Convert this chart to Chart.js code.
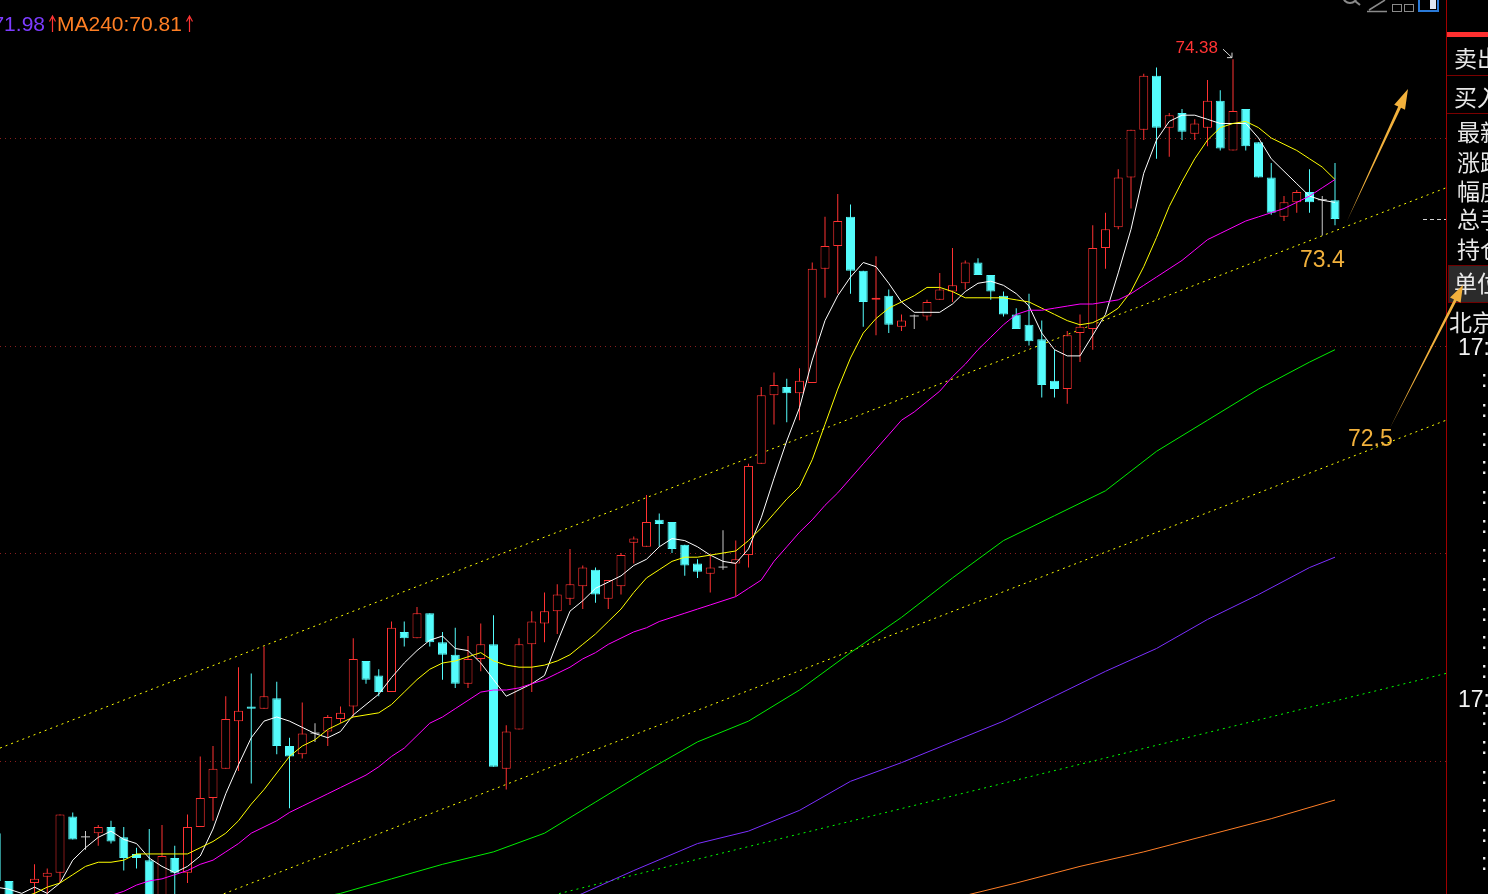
<!DOCTYPE html>
<html>
<head>
<meta charset="utf-8">
<title>K线</title>
<script src="https://cdn.jsdelivr.net/npm/chart.js@4.4.1/dist/chart.umd.min.js"></script>
<style>
  html, body { margin: 0; padding: 0; background: #000; overflow: hidden; }
  #wrap { position: relative; width: 1488px; height: 894px; background: #000; overflow: hidden; }
  #chartBox { position: absolute; left: 0; top: 0; width: 1446px; height: 894px; }
  #overlay { position: absolute; left: 0; top: 0; pointer-events: none; }
  #overlay text { font-family: "Liberation Sans", Arial, sans-serif; }
  #overlay .cjk { font-family: "Noto Sans CJK SC", sans-serif; }
</style>
</head>
<body>
<div id="wrap">
  <div id="chartBox"><canvas id="kChart"></canvas></div>
  <svg id="overlay" width="1488" height="894">
    <!-- MA legend (left part is cut by the window) -->
    <text id="lg120" x="45" y="31" font-size="21" fill="#7d3cff" text-anchor="end">71.98</text>
    <path d="M52.5 32V16M49.5 21.5L52.5 16L55.5 21.5" stroke="#ff3434" stroke-width="1.2" fill="none"/>
    <text id="lg240" x="57" y="31" font-size="21" fill="#ff7f24">MA240:70.81</text>
    <path d="M189.5 32V16M186.5 21.5L189.5 16L192.5 21.5" stroke="#ff3434" stroke-width="1.2" fill="none"/>

    <!-- toolbar icons, top right -->
    <circle cx="1350" cy="-4" r="7" stroke="#8a8a8a" stroke-width="2" fill="none"/>
    <path d="M1355 1L1360 5" stroke="#8a8a8a" stroke-width="2"/>
    <path d="M1385 0L1369 10M1367 11.5H1387" stroke="#8a8a8a" stroke-width="1.5" fill="none"/>
    <rect x="1392.5" y="4.5" width="9" height="7" stroke="#8a8a8a" fill="none"/>
    <rect x="1404.5" y="4.5" width="9" height="7" stroke="#8a8a8a" fill="none"/>
    <rect x="1419" y="-2" width="19" height="13" stroke="#2a7ad8" stroke-width="2" fill="none"/>
    <rect x="1430" y="0" width="6" height="9" fill="#dfe8f5"/>

    <!-- right info panel -->
    <line x1="1446.5" y1="0" x2="1446.5" y2="894" stroke="#a00000"/>
    <rect x="1447" y="32" width="41" height="5" fill="#ff3030"/>
    <line x1="1447" y1="75.5" x2="1488" y2="75.5" stroke="#7a0000"/>
    <line x1="1447" y1="113.5" x2="1488" y2="113.5" stroke="#7a0000"/>
    <text class="cjk" x="1454" y="67" font-size="23" fill="#e8e8e8">卖出</text>
    <text class="cjk" x="1454" y="106" font-size="23" fill="#e8e8e8">买入</text>
    <text class="cjk" x="1457" y="141" font-size="23" fill="#e8e8e8">最新</text>
    <text class="cjk" x="1457" y="171" font-size="23" fill="#e8e8e8">涨跌</text>
    <text class="cjk" x="1457" y="200" font-size="23" fill="#e8e8e8">幅度</text>
    <text class="cjk" x="1457" y="228" font-size="23" fill="#e8e8e8">总手</text>
    <text class="cjk" x="1457" y="258" font-size="23" fill="#e8e8e8">持仓</text>
    <rect x="1448.5" y="265.5" width="41" height="37" fill="#2b2b2b" stroke="#700000"/>
    <text class="cjk" x="1454" y="292" font-size="23" fill="#e8e8e8">单位</text>
    <text class="cjk" x="1449" y="331" font-size="23" fill="#e8e8e8">北京</text>
    <text x="1458" y="355" font-size="23" fill="#f2f2f2">17:</text>
    <text x="1458" y="707" font-size="23" fill="#f2f2f2">17:</text>
    <g id="timeRows"></g>

    <!-- hand drawn notes -->
    <text x="1300" y="267" font-size="23" fill="#f2b13c">73.4</text>
    <text x="1348" y="446" font-size="23" fill="#f2b13c">72.5</text>
    <polygon points="1347,221 1398.2,106.6 1394.2,104.7 1408,89 1405,109.7 1401,107.8" fill="#f2b13c"/>
    <polygon points="1390,428 1454,299.4 1450,297.4 1463,285 1460.6,302.8 1456.6,300.8" fill="#f2b13c"/>
  </svg>
</div>

<script>
// candle index (one per trading bar)
const idx = Array.from({ length: 106 }, (_, i) => i);

const opens = [
  70.65, 70.42, 70.30, 70.41, 70.44, 70.46, 70.73, 70.63, 70.65, 70.68,
  70.63, 70.55, 70.52, 70.33, 70.53, 70.46, 70.68, 70.82, 70.96, 71.19,
  71.26, 71.25, 71.30, 71.07, 71.03, 71.13, 71.14, 71.20, 71.26, 71.48,
  71.41, 71.33, 71.62, 71.59, 71.71, 71.57, 71.51, 71.37, 71.49, 71.56,
  70.96, 71.15, 71.56, 71.66, 71.72, 71.78, 71.84, 71.92, 71.78, 71.84,
  72.05, 72.03, 72.16, 72.15, 72.04, 71.95, 71.90, 71.93, 71.95, 71.99,
  72.43, 72.76, 72.80, 72.77, 72.82, 73.37, 73.48, 73.62, 73.36, 73.22,
  73.24, 73.09, 73.14, 73.14, 73.22, 73.26, 73.30, 73.40, 73.34, 73.24,
  73.15, 73.10, 73.03, 72.83, 72.79, 73.06, 73.08, 73.47, 73.57, 73.81,
  74.04, 74.30, 74.05, 74.12, 74.02, 74.05, 74.18, 73.94, 74.14, 73.98,
  73.81, 73.62, 73.69, 73.74, 73.70, 73.70
];
const highs = [
  70.66, 70.42, 70.33, 70.50, 70.48, 70.74, 70.75, 70.66, 70.69, 70.71,
  70.68, 70.58, 70.67, 70.69, 70.59, 70.74, 71.02, 71.07, 71.31, 71.45,
  71.42, 71.55, 71.38, 71.11, 71.28, 71.18, 71.22, 71.26, 71.59, 71.48,
  71.44, 71.67, 71.67, 71.74, 71.71, 71.62, 71.64, 71.60, 71.66, 71.70,
  71.17, 71.59, 71.72, 71.81, 71.85, 72.02, 71.94, 71.93, 71.87, 72.00,
  72.08, 72.28, 72.19, 72.15, 72.04, 71.97, 71.99, 72.11, 72.06, 72.43,
  72.80, 72.87, 72.84, 72.89, 73.40, 73.62, 73.73, 73.68, 73.36, 73.43,
  73.27, 73.15, 73.15, 73.22, 73.35, 73.47, 73.41, 73.42, 73.34, 73.26,
  73.18, 73.25, 73.12, 72.98, 73.07, 73.15, 73.58, 73.64, 73.85, 74.04,
  74.31, 74.34, 74.12, 74.14, 74.09, 74.28, 74.23, 74.38, 74.14, 73.98,
  73.88, 73.72, 73.75, 73.85, 73.72, 73.88
];
const lows = [
  70.40, 70.30, 70.28, 70.34, 70.34, 70.41, 70.62, 70.57, 70.59, 70.60,
  70.47, 70.48, 70.30, 70.30, 70.33, 70.41, 70.68, 70.71, 70.96, 70.95,
  70.89, 71.25, 71.03, 70.77, 71.01, 71.09, 71.07, 71.18, 71.21, 71.37,
  71.31, 71.33, 71.55, 71.59, 71.55, 71.39, 71.35, 71.35, 71.43, 70.97,
  70.86, 71.15, 71.33, 71.57, 71.61, 71.75, 71.73, 71.76, 71.73, 71.80,
  71.95, 72.03, 72.03, 72.00, 71.89, 71.88, 71.81, 71.92, 71.79, 71.93,
  72.43, 72.62, 72.63, 72.64, 72.82, 73.23, 73.25, 73.25, 73.09, 73.05,
  73.06, 73.07, 73.08, 73.12, 73.22, 73.21, 73.27, 73.34, 73.22, 73.14,
  73.08, 73.00, 72.75, 72.75, 72.72, 72.92, 72.98, 73.37, 73.56, 73.66,
  73.99, 73.90, 73.91, 73.99, 73.99, 73.96, 73.94, 73.94, 73.94, 73.81,
  73.63, 73.60, 73.64, 73.64, 73.53, 73.58
];
const closes = [
  70.42, 70.33, 70.32, 70.43, 70.46, 70.74, 70.62, 70.63, 70.68, 70.61,
  70.53, 70.53, 70.33, 70.54, 70.46, 70.68, 70.82, 70.96, 71.20, 71.24,
  71.25, 71.31, 71.07, 71.02, 71.13, 71.13, 71.21, 71.23, 71.49, 71.39,
  71.33, 71.64, 71.59, 71.71, 71.57, 71.51, 71.37, 71.49, 71.56, 70.97,
  71.14, 71.56, 71.67, 71.72, 71.80, 71.85, 71.93, 71.80, 71.87, 71.99,
  72.07, 72.15, 72.14, 72.02, 71.94, 71.91, 71.93, 71.93, 71.97, 72.42,
  72.76, 72.81, 72.77, 72.83, 73.37, 73.48, 73.60, 73.36, 73.21, 73.23,
  73.10, 73.12, 73.14, 73.21, 73.27, 73.29, 73.40, 73.34, 73.26, 73.15,
  73.08, 73.02, 72.81, 72.79, 73.05, 73.09, 73.47, 73.56, 73.81, 74.04,
  74.30, 74.05, 74.11, 74.03, 74.07, 74.18, 73.95, 74.13, 73.96, 73.81,
  73.64, 73.69, 73.74, 73.69, 73.70, 73.61
];

const ma5 = [
  70.39, 70.38, 70.36, 70.39, 70.36, 70.41, 70.52, 70.58, 70.63, 70.66,
  70.62, 70.60, 70.53, 70.49, 70.46, 70.49, 70.54, 70.67, 70.84, 70.98,
  71.11, 71.19, 71.21, 71.19, 71.16, 71.13, 71.11, 71.14, 71.22, 71.27,
  71.32, 71.40, 71.47, 71.53, 71.58, 71.60, 71.54, 71.53, 71.47, 71.39,
  71.31, 71.34, 71.37, 71.41, 71.57, 71.72, 71.77, 71.83, 71.86, 71.89,
  71.94, 71.97, 72.03, 72.07, 72.06, 72.03, 71.99, 71.96, 71.95, 72.02,
  72.17, 72.36, 72.54, 72.70, 72.93, 73.12, 73.24, 73.33, 73.40, 73.38,
  73.30, 73.21, 73.16, 73.16, 73.16, 73.20, 73.26, 73.30, 73.31, 73.29,
  73.25, 73.19, 73.06, 72.98, 72.95, 72.95, 73.05, 73.15, 73.35, 73.56,
  73.83, 73.99, 74.08, 74.11, 74.11, 74.09, 74.07, 74.07, 74.07, 74.00,
  73.90, 73.84, 73.78, 73.72, 73.70, 73.69
];
const ma10 = [
  70.30, 70.33, 70.34, 70.36, 70.39, 70.41, 70.45, 70.49, 70.51, 70.51,
  70.52, 70.55, 70.55, 70.55, 70.55, 70.55, 70.58, 70.61, 70.65, 70.71,
  70.79, 70.86, 70.94, 71.02, 71.07, 71.10, 71.15, 71.18, 71.21, 71.22,
  71.23, 71.27, 71.33, 71.39, 71.44, 71.47, 71.48, 71.50, 71.52, 71.48,
  71.46, 71.45, 71.45, 71.46, 71.48, 71.51, 71.56, 71.61, 71.67, 71.73,
  71.81, 71.88, 71.92, 71.96, 71.98, 71.98, 71.99, 72.00, 72.01, 72.06,
  72.12, 72.19, 72.26, 72.32, 72.45, 72.62, 72.79, 72.94, 73.06, 73.13,
  73.18, 73.21, 73.24, 73.28, 73.28, 73.26, 73.23, 73.23, 73.23, 73.23,
  73.22, 73.21, 73.18, 73.15, 73.12, 73.10, 73.11, 73.14, 73.18, 73.26,
  73.38, 73.52, 73.67, 73.79, 73.90, 73.99, 74.05, 74.07, 74.08, 74.05,
  74.00, 73.97, 73.94, 73.90, 73.86, 73.80
];
const ma20 = [
  70.18, 70.20, 70.22, 70.25, 70.27, 70.29, 70.31, 70.32, 70.34, 70.35,
  70.37, 70.40, 70.42, 70.43, 70.45, 70.47, 70.50, 70.52, 70.56, 70.60,
  70.65, 70.68, 70.71, 70.75, 70.78, 70.81, 70.84, 70.87, 70.90, 70.93,
  70.97, 71.02, 71.06, 71.12, 71.18, 71.21, 71.25, 71.29, 71.33, 71.34,
  71.34, 71.35, 71.37, 71.39, 71.42, 71.45, 71.49, 71.52, 71.56, 71.59,
  71.62, 71.64, 71.67, 71.69, 71.71, 71.73, 71.75, 71.77, 71.79, 71.83,
  71.87, 71.96, 72.03, 72.10, 72.16, 72.23, 72.29, 72.36, 72.43, 72.50,
  72.57, 72.64, 72.68, 72.73, 72.78, 72.85, 72.91, 72.98, 73.04, 73.10,
  73.15, 73.17, 73.17, 73.18, 73.19, 73.20, 73.20, 73.21, 73.22, 73.25,
  73.29, 73.33, 73.37, 73.41, 73.46, 73.51, 73.54, 73.57, 73.60, 73.62,
  73.64, 73.66, 73.69, 73.72, 73.76, 73.80
];

// long averages, read at a few bars
const ma60Idx = [20, 27, 31, 35, 39, 43, 47, 51, 55, 59, 63, 67, 71, 75, 79, 83, 87, 91, 95, 99, 103, 105];
const ma60Val = [70.28, 70.36, 70.43, 70.50, 70.56, 70.65, 70.80, 70.95, 71.09, 71.19, 71.34, 71.52, 71.69, 71.88, 72.06, 72.18, 72.30, 72.49, 72.64, 72.79, 72.92, 72.98];
const ma120Idx = [40, 46, 50, 55, 59, 63, 67, 71, 75, 79, 83, 87, 91, 95, 99, 103, 105];
const ma120Val = [70.20, 70.36, 70.47, 70.60, 70.66, 70.76, 70.90, 70.99, 71.09, 71.19, 71.31, 71.43, 71.54, 71.68, 71.80, 71.93, 71.98];
const ma240Idx = [70, 76, 80, 85, 90, 95, 100, 105];
const ma240Val = [70.26, 70.35, 70.41, 70.49, 70.56, 70.64, 70.72, 70.81];

// drawn trend lines (bar index, price at both ends)
const trendX = [0.29, 113.71];
const upperTrend = [71.06, 73.76];
const lowerTrend = [69.94, 72.64];
const greenTrend = [69.69, 71.42];

const gridPrices = [71, 72, 73, 74];

const upCol = '#ff3232', downCol = '#54fcfc', flatCol = '#c8c8c8';
function candleColor(i) {
  if (closes[i] > opens[i]) return upCol;
  if (closes[i] < opens[i]) return downCol;
  return flatCol;
}
const pts = (xs, ys) => xs.map((x, i) => ({ x: x, y: ys[i] }));

document.getElementById('lg120').textContent = ma120Val[ma120Val.length - 1].toFixed(2);
document.getElementById('lg240').textContent = 'MA240:' + ma240Val[ma240Val.length - 1].toFixed(2);

// time rows in the side panel (only the colons are visible)
const rowBase = [387, 417, 446, 474, 504, 533, 562, 591, 621, 649, 678, 725, 754, 784, 812, 842, 870];
const rows = document.getElementById('timeRows');
rowBase.forEach(b => {
  const t = document.createElementNS('http://www.w3.org/2000/svg', 'text');
  t.setAttribute('x', 1481);
  t.setAttribute('y', b);
  t.setAttribute('font-size', 23);
  t.setAttribute('fill', '#f2f2f2');
  t.textContent = ':';
  rows.appendChild(t);
});

const gridPlugin = {
  id: 'priceGrid',
  beforeDatasetsDraw(chart) {
    const { ctx, chartArea, scales } = chart;
    ctx.save();
    ctx.strokeStyle = '#8a1e1e';
    ctx.lineWidth = 1;
    ctx.setLineDash([1, 4]);
    gridPrices.forEach(p => {
      const y = Math.round(scales.y.getPixelForValue(p)) + 0.5;
      ctx.beginPath();
      ctx.moveTo(chartArea.left, y);
      ctx.lineTo(chartArea.right, y);
      ctx.stroke();
    });
    ctx.restore();
  }
};

const notePlugin = {
  id: 'notes',
  afterDatasetsDraw(chart) {
    const { ctx, chartArea, scales } = chart;
    let hi = 0;
    highs.forEach((v, i) => { if (v > highs[hi]) hi = i; });
    const px = scales.x.getPixelForValue(idx[hi]);
    const py = scales.y.getPixelForValue(highs[hi]);
    ctx.save();
    ctx.font = '17px "Liberation Sans", Arial, sans-serif';
    ctx.fillStyle = '#ff3434';
    ctx.textAlign = 'right';
    ctx.fillText(highs[hi].toFixed(2), px - 15, py - 6);
    // little pointer to the top
    ctx.strokeStyle = '#d8d8d8';
    ctx.lineWidth = 1;
    ctx.beginPath();
    ctx.moveTo(px - 10, py - 10);
    ctx.lineTo(px - 1, py - 1.5);
    ctx.moveTo(px - 6, py - 1.5);
    ctx.lineTo(px - 1, py - 1.5);
    ctx.lineTo(px - 1, py - 6.5);
    ctx.stroke();
    // last price marker at the right edge
    const ly = Math.round(scales.y.getPixelForValue(closes[closes.length - 1])) + 0.5;
    ctx.setLineDash([4, 3]);
    ctx.strokeStyle = '#d0d0d0';
    ctx.beginPath();
    ctx.moveTo(chartArea.right - 23, ly);
    ctx.lineTo(chartArea.right, ly);
    ctx.stroke();
    ctx.restore();
  }
};

const lineDs = (data, color, order) => ({
  type: 'line', data: data, borderColor: color, borderWidth: 1,
  pointRadius: 0, tension: 0, fill: false, order: order
});

new Chart(document.getElementById('kChart'), {
  type: 'bar',
  data: {
    labels: idx,
    datasets: [
      {
        type: 'bar', label: 'wick',
        data: idx.map(i => [lows[i], highs[i]]),
        backgroundColor: c => candleColor(c.dataIndex),
        barThickness: 1, grouped: false, inflateAmount: 0, order: 3
      },
      {
        type: 'bar', label: 'body',
        data: idx.map(i => [opens[i], closes[i]]),
        backgroundColor: c => closes[c.dataIndex] > opens[c.dataIndex] ? '#000000' : candleColor(c.dataIndex),
        borderColor: c => candleColor(c.dataIndex),
        borderWidth: c => closes[c.dataIndex] === opens[c.dataIndex] ? 0 : 1,
        borderSkipped: false, barThickness: 9, minBarLength: 1,
        grouped: false, inflateAmount: 0, order: 2
      },
      Object.assign(lineDs(pts(trendX, upperTrend), '#ffff00', 4), { borderDash: [2, 4] }),
      Object.assign(lineDs(pts(trendX, lowerTrend), '#ffff00', 4), { borderDash: [2, 4] }),
      Object.assign(lineDs(pts(trendX, greenTrend), '#00ff00', 4), { borderDash: [2, 4] }),
      lineDs(pts(ma240Idx, ma240Val), '#ff7f27', 1),
      lineDs(pts(ma120Idx, ma120Val), '#7b2fff', 1),
      lineDs(pts(ma60Idx, ma60Val), '#00ee00', 1),
      lineDs(ma20, '#ff00ff', 0),
      lineDs(ma10, '#ffff00', 0),
      lineDs(ma5, '#ffffff', 0)
    ]
  },
  options: {
    responsive: true,
    maintainAspectRatio: false,
    animation: false,
    events: [],
    layout: { padding: 0 },
    plugins: { legend: { display: false }, tooltip: { enabled: false } },
    scales: {
      x: { type: 'linear', display: false, offset: false, min: 0.294, max: 113.706 },
      y: { type: 'linear', display: false, min: 70.357, max: 74.665 }
    }
  },
  plugins: [gridPlugin, notePlugin]
});
</script>
</body>
</html>
